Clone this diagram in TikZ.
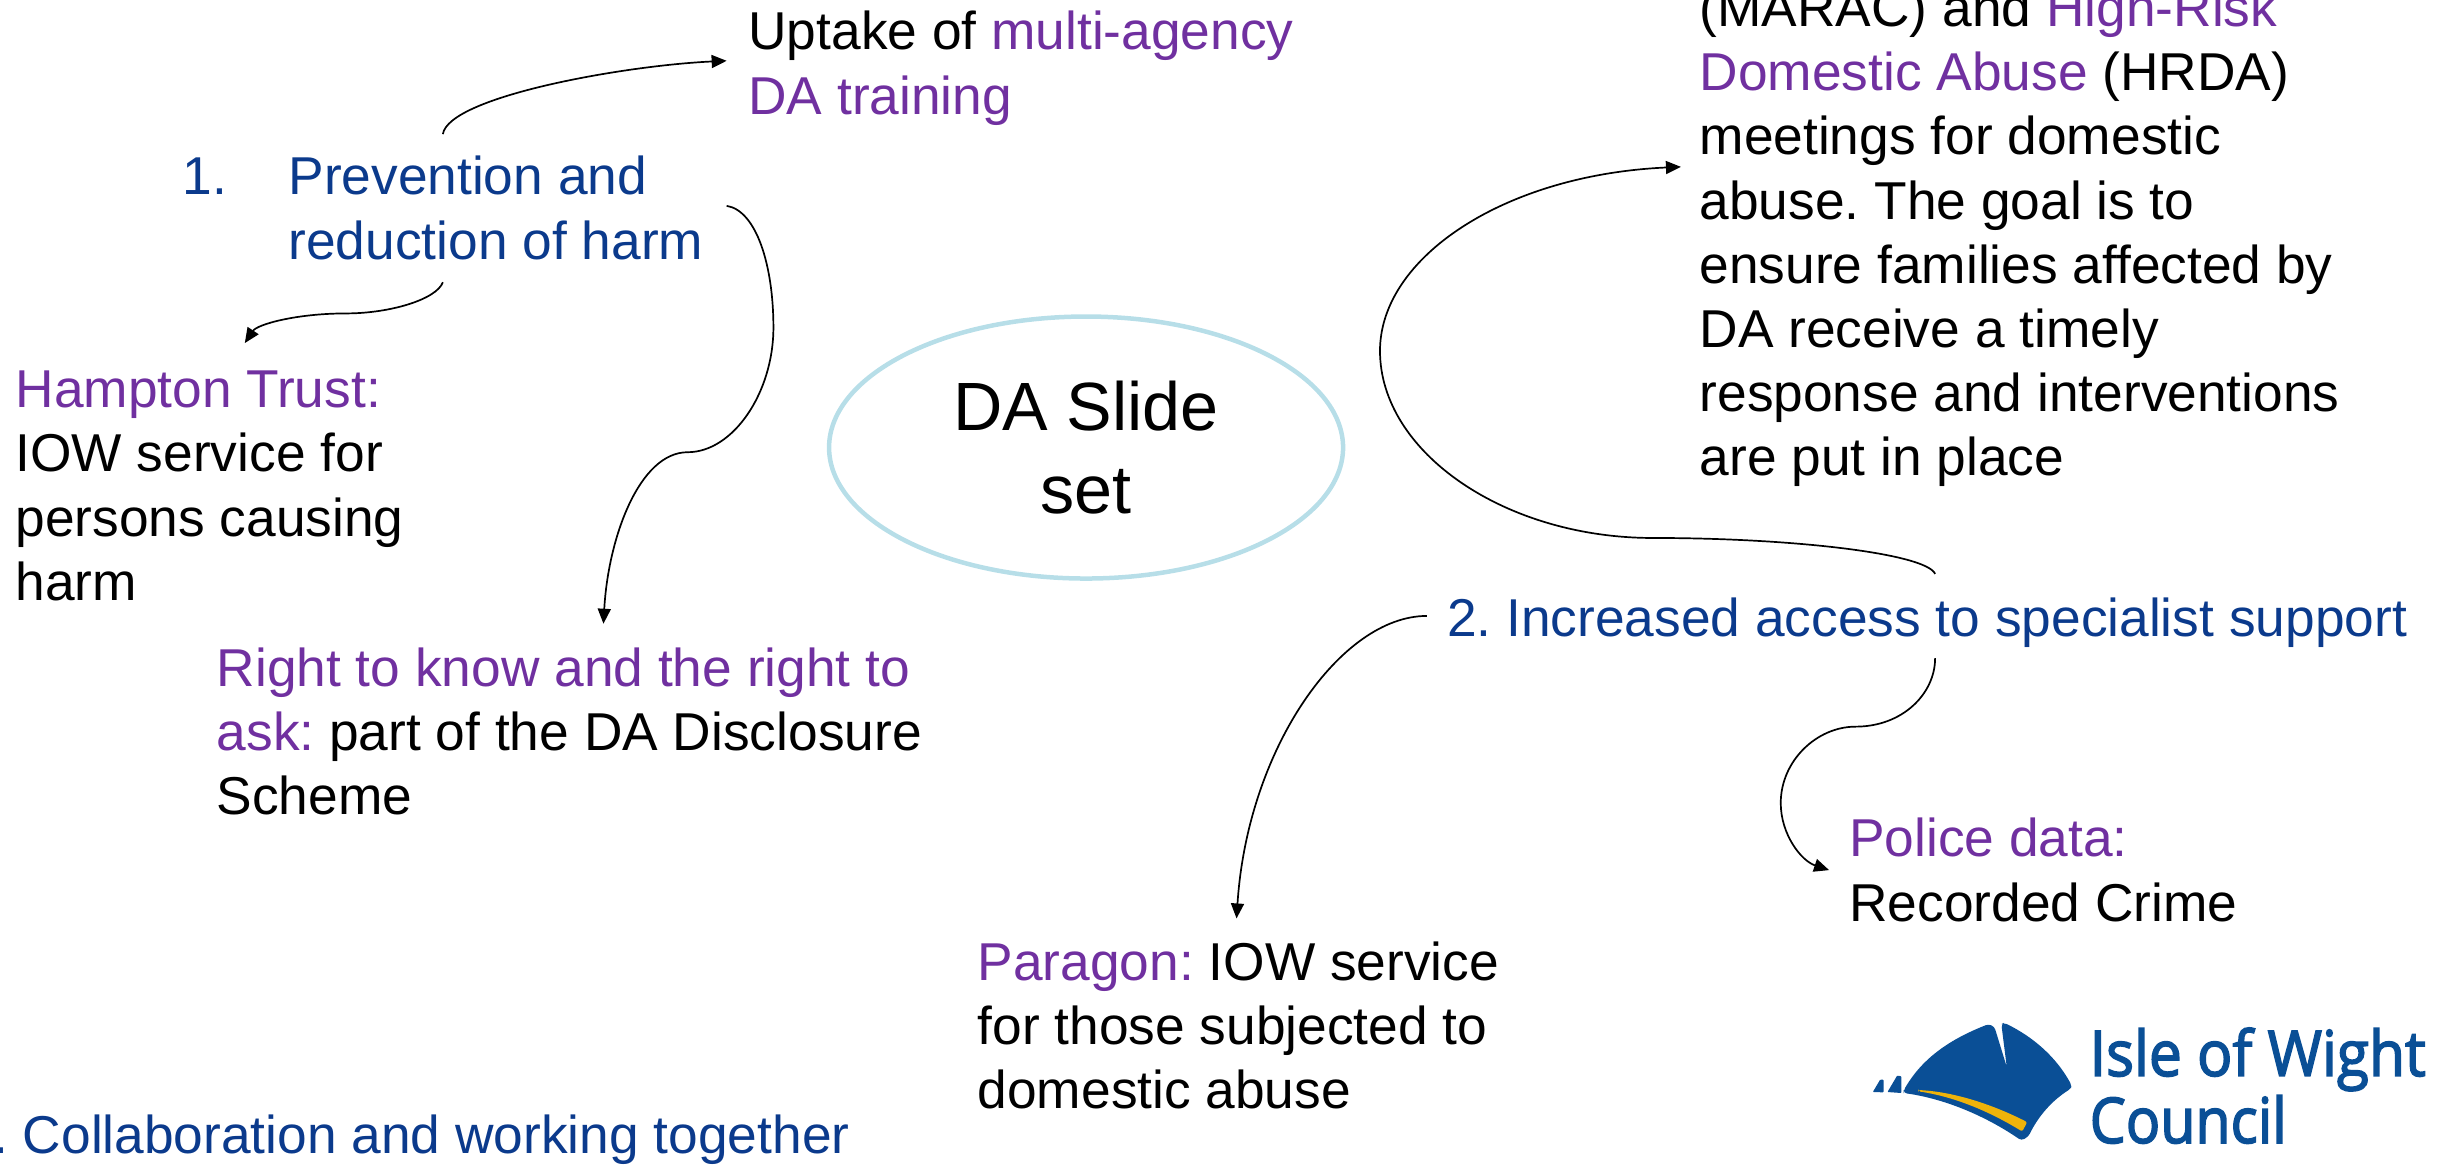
\documentclass[tikz,border=0pt]{standalone}
\usepackage{fontspec}
\usepackage{graphicx}
\setmainfont{Liberation Sans}
\newfontfamily\logofont[FakeBold=2.5]{Open Sans}
\usetikzlibrary{arrows.meta,shapes.geometric}
\definecolor{navy}{HTML}{0B3A8C}
\definecolor{purp}{HTML}{7030A0}
\definecolor{halo}{HTML}{B7DEE8}
\definecolor{iwblue}{HTML}{0A4F96}
\definecolor{iwgold}{HTML}{EFB30A}
\newcommand{\Pu}[1]{\textcolor{purp}{#1}}
\newcommand{\Fl}{\rule{0pt}{40pt}}
\tikzset{
  blk/.style={anchor=north west,inner sep=0pt,outer sep=0pt,yshift=40pt,align=left,text=black,
    font=\fontsize{53.3}{64.2}\selectfont\frenchspacing},
  link/.style={draw=black,line width=1.7pt,-{Triangle[length=15pt,width=13pt]}},
  logotext/.style={anchor=base west,inner sep=0pt,text=iwblue}
}
\begin{document}
\begin{tikzpicture}[x=1.5593pt,y=-1.5593pt]
\useasboundingbox (0,0) rectangle (1568,746.5);
% ellipse
\node (hub) [ellipse,draw=halo,line width=4.5pt,minimum width=514pt,minimum height=262pt,inner sep=0pt,align=center,
  font=\fontsize{68.3}{83}\selectfont] at (696.5,287) {DA Slide\\set};
% texts
\node (uptake) [blk] at (480,32) {\Fl Uptake of \Pu{multi-agency}\\\Pu{DA training}};
\node (num1) [blk,text=navy] at (117,125) {\Fl 1.};
\node (prev) [blk,text=navy] at (185,125) {\Fl Prevention and\\reduction of harm};
\node (hampton) [blk] at (10,261.5) {\Fl \Pu{Hampton Trust:}\\IOW service for\\persons causing\\harm};
\node (right) [blk] at (139,440) {\Fl \Pu{Right to know and the right to}\\\Pu{ask:} part of the DA Disclosure\\Scheme};
\node (marac) [blk] at (1090,17) {\Fl (MARAC) and \Pu{High-Risk}\\\Pu{Domestic Abuse} (HRDA)\\meetings for domestic\\abuse. The goal is to\\ensure families affected by\\DA receive a timely\\response and interventions\\are put in place};
\node (incr) [blk,text=navy] at (928,408) {\Fl 2. Increased access to specialist support};
\node (police) [blk] at (1186,549.5) {\Fl \Pu{Police data:}\\Recorded Crime};
\node (paragon) [blk] at (627,628.5) {\Fl \Pu{Paragon:} IOW service\\for those subjected to\\domestic abuse};
\node (collab) [anchor=base east,inner sep=0pt,text=navy,font=\fontsize{53.3}{64}\selectfont\frenchspacing] at (545,740) {3. Collaboration and working together};
% connector ends
\coordinate (a1s) at (284,86);   \coordinate (a1e) at (466,39);
\coordinate (a2s) at (284,181);  \coordinate (a2e) at (157,220);
\coordinate (a3s) at (466,132);  \coordinate (a3e) at (387,400);
\coordinate (a4s) at (1241,368); \coordinate (a4e) at (1078,107);
\coordinate (a5s) at (915,395);  \coordinate (a5e) at (793,589);
\coordinate (a6s) at (1241,422); \coordinate (a6e) at (1173,558);
% connectors
\draw[link] (a1s) .. controls (288,62) and (400,42) .. (a1e);
\draw[link] (a2s) .. controls (280,192) and (250,201) .. (222,201) .. controls (190,201) and (165,208) .. (a2e);
\draw[link] (a3s) .. controls (485,135) and (496,170) .. (496,210) .. controls (496,252) and (470,290) .. (441,290) .. controls (410,290) and (390,345) .. (a3e);
\draw[link] (a4s) .. controls (1235,355) and (1150,345) .. (1060,345) .. controls (965,345) and (885,290) .. (885,225) .. controls (885,165) and (965,112) .. (a4e);
\draw[link] (a5s) .. controls (860,395) and (800,480) .. (a5e);
\draw[link] (a6s) .. controls (1241,445) and (1220,466) .. (1190,466) .. controls (1165,466) and (1142,488) .. (1142,515) .. controls (1142,535) and (1155,552) .. (a6e);
% logo
\begin{scope}[shift={(1180,641.3)},x=0.386pt,y=-0.3346pt]
\fill[iwblue,rounded corners=3pt] (165,270) .. controls (215,170) and (290,115) .. (385,72) -- (400,80) -- (432,200) -- (418,72) -- (425,68)
  .. controls (500,110) and (560,170) .. (600,255) -- (598,265) .. controls (550,300) and (515,345) .. (488,408) -- (470,420)
  .. controls (375,345) and (270,295) .. (165,278) -- cycle;
\fill[iwgold,rounded corners=2pt] (203,269) .. controls (300,275) and (400,315) .. (485,365) -- (472,393) .. controls (390,335) and (300,290) .. (203,273) -- cycle;
\fill[iwblue,rounded corners=0.8pt] (85,275) -- (104,238) -- (113,238) -- (113,276) -- cycle;
\fill[iwblue,rounded corners=0.8pt] (123,275) -- (148,226) -- (159,228) -- (159,278) -- cycle;
\end{scope}
\node (logoa) [logotext] at (1340,690) {\resizebox{336pt}{\height}{\fontsize{63}{70}\logofont Isle of Wight}};
\node (logob) [logotext] at (1340,733) {\resizebox{197pt}{\height}{\fontsize{63}{70}\logofont Council}};
\end{tikzpicture}
\end{document}
